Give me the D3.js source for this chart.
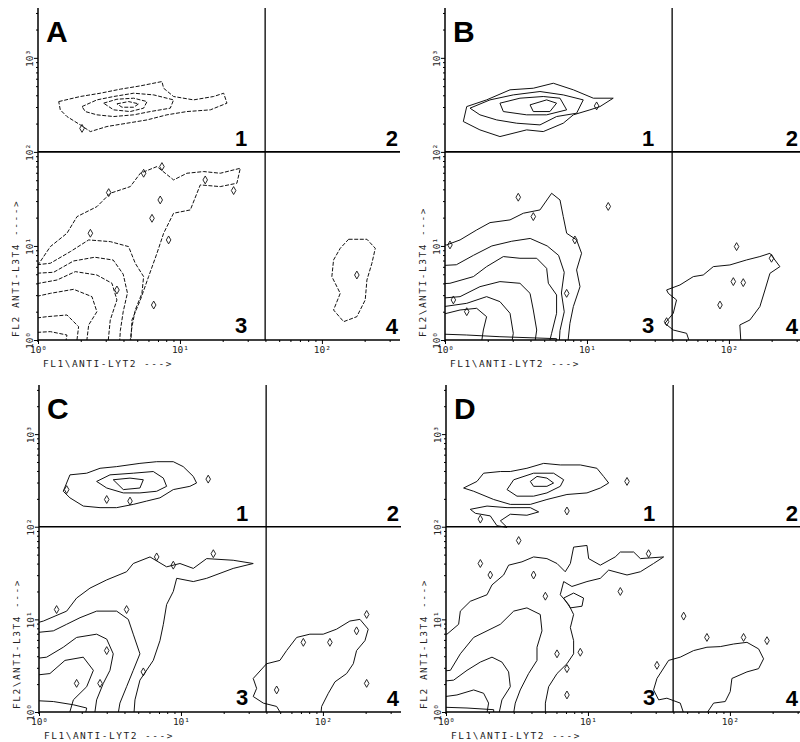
<!DOCTYPE html>
<html>
<head>
<meta charset="utf-8">
<script src="https://cdn.jsdelivr.net/npm/d3@7"></script>
<style>
  body { margin: 0; background: #fff; }
  svg { display: block; }
</style>
</head>
<body>
<div id="chart"></div>
<script>
// all coordinates are log10 fluorescence (decades) on FL1 (x) and FL2 (y)
var panelNames = ["A", "B", "C", "D"];
var quadrantLabels = ["1", "2", "3", "4"];
var xTickLabels = ["10\u2070", "10\u00b9", "10\u00b2"];
var yTickLabels = ["10\u2070", "10\u00b9", "10\u00b2", "10\u00b3"];
var xTitles = ["FL1\\ANTI-LYT2 --->", "FL1\\ANTI-LYT2 --->", "FL1\\ANTI-LYT2 --->", "FL1\\ANTI-LYT2 --->"];
var yTitles = ["FL2 ANTI-L3T4 ---->", "FL2\\ANTI-L3T4 --->", "FL2\\ANTI-L3T4 --->", "FL2 ANTI-L3T4 --->"];
var xMax = 2.55, yMax = 3.53;
var gateX = 1.6, gateY = 2;

// contour rings, panel A
var ringsA = [
  [[0.146,2.535],[0.298,2.589],[0.439,2.624],[0.58,2.667],[0.721,2.702],[0.873,2.748],[0.885,2.677],[0.955,2.589],[1.096,2.553],[1.237,2.589],[1.308,2.624],[1.331,2.518],[1.214,2.447],[1.049,2.429],[0.908,2.394],[0.768,2.34],[0.627,2.305],[0.486,2.27],[0.369,2.216],[0.298,2.287],[0.204,2.376],[0.157,2.447]],
  [[0.31,2.482],[0.415,2.553],[0.533,2.589],[0.674,2.624],[0.815,2.606],[0.955,2.553],[0.932,2.465],[0.791,2.429],[0.674,2.394],[0.533,2.376],[0.415,2.394],[0.333,2.429]],
  [[0.462,2.518],[0.556,2.56],[0.674,2.571],[0.768,2.535],[0.744,2.465],[0.65,2.429],[0.533,2.447]],
  [[0.556,2.511],[0.638,2.535],[0.709,2.511],[0.674,2.475],[0.592,2.475]],
  [[-0.124,0.816],[0,0.798],[0.087,0.993],[0.204,1.135],[0.275,1.312],[0.415,1.418],[0.509,1.56],[0.65,1.631],[0.721,1.773],[0.838,1.844],[0.955,1.702],[1.049,1.773],[1.167,1.791],[1.284,1.773],[1.425,1.826],[1.401,1.667],[1.284,1.631],[1.143,1.649],[1.073,1.383],[0.955,1.348],[0.885,1.135],[0.838,0.922],[0.779,0.674],[0.721,0.426],[0.662,0.213],[0.65,-0.142],[-0.124,-0.142]],
  [[-0.124,0.78],[0.087,0.816],[0.228,0.94],[0.357,1.064],[0.509,1.046],[0.638,0.993],[0.685,0.816],[0.744,0.674],[0.732,0.496],[0.685,0.319],[0.662,0.142],[0.638,-0.142],[-0.124,-0.142]],
  [[-0.124,0.7],[0.11,0.72],[0.25,0.84],[0.4,0.88],[0.53,0.85],[0.6,0.7],[0.63,0.5],[0.6,0.3],[0.58,0.1],[0.57,-0.142],[-0.124,-0.142]],
  [[-0.124,0.567],[0.134,0.638],[0.263,0.727],[0.415,0.691],[0.521,0.603],[0.556,0.426],[0.509,0.213],[0.486,-0.142],[-0.124,-0.142]],
  [[-0.124,0.426],[0.087,0.496],[0.251,0.539],[0.38,0.461],[0.415,0.301],[0.357,0.16],[0.333,-0.142],[-0.124,-0.142]],
  [[-0.124,0.213],[0.063,0.248],[0.204,0.266],[0.286,0.142],[0.263,-0.142],[-0.124,-0.142]],
  [[-0.124,0.071],[0.087,0.089],[0.204,0.053],[0.181,-0.142],[-0.124,-0.142]],
  [[2.188,1.071],[2.317,1.071],[2.376,0.975],[2.352,0.816],[2.317,0.638],[2.305,0.426],[2.246,0.248],[2.153,0.195],[2.082,0.319],[2.129,0.496],[2.07,0.674],[2.082,0.851],[2.129,0.975]]
];
var islandsA = [[0.744,1.773],[0.873,1.844],[0.498,1.567],[0.803,1.294],[0.92,1.064],[0.815,0.372],[0.369,1.135],[0.556,0.532],[2.246,0.691],[1.378,1.589],[1.178,1.702],[0.861,1.489],[0.31,2.25]];

// panel B
var ringsB = [
  [[0.129,2.323],[0.153,2.482],[0.293,2.553],[0.458,2.66],[0.622,2.677],[0.763,2.73],[0.904,2.66],[1.045,2.571],[1.185,2.571],[1.092,2.482],[1.021,2.447],[0.904,2.394],[0.833,2.305],[0.692,2.216],[0.575,2.234],[0.387,2.163],[0.246,2.234]],
  [[0.176,2.465],[0.317,2.553],[0.481,2.606],[0.669,2.642],[0.833,2.606],[0.974,2.553],[0.927,2.411],[0.786,2.376],[0.669,2.287],[0.505,2.305],[0.364,2.34],[0.246,2.394]],
  [[0.387,2.518],[0.528,2.571],[0.692,2.589],[0.81,2.571],[0.857,2.447],[0.716,2.394],[0.575,2.394],[0.411,2.429]],
  [[0.599,2.5],[0.716,2.553],[0.786,2.518],[0.739,2.429],[0.622,2.429]],
  [[-0.176,1.011],[0.012,1.011],[0.106,1.064],[0.223,1.17],[0.317,1.248],[0.458,1.277],[0.552,1.348],[0.669,1.383],[0.751,1.56],[0.81,1.489],[0.833,1.312],[0.857,1.135],[0.927,1.064],[0.962,0.922],[0.927,0.745],[0.951,0.567],[0.904,0.355],[0.88,0.177],[0.857,-0.142],[-0.176,-0.142]],
  [[-0.176,0.78],[0.08,0.8],[0.2,0.9],[0.33,1.0],[0.47,1.05],[0.6,1.08],[0.72,1.0],[0.8,0.9],[0.84,0.72],[0.82,0.5],[0.84,0.3],[0.81,0.1],[0.8,-0.142],[-0.176,-0.142]],
  [[-0.176,0.585],[0.035,0.603],[0.2,0.674],[0.293,0.78],[0.411,0.887],[0.528,0.869],[0.646,0.869],[0.716,0.762],[0.728,0.603],[0.786,0.479],[0.786,0.284],[0.751,0.071],[0.716,-0.142],[-0.176,-0.142]],
  [[-0.176,0.426],[0.106,0.461],[0.246,0.567],[0.387,0.621],[0.528,0.603],[0.599,0.496],[0.622,0.319],[0.646,0.106],[0.622,-0.142],[-0.176,-0.142]],
  [[-0.176,0.319],[0.153,0.39],[0.293,0.461],[0.387,0.408],[0.458,0.284],[0.481,0.071],[0.458,-0.142],[-0.176,-0.142]],
  [[-0.176,0.213],[0.106,0.319],[0.223,0.337],[0.293,0.248],[0.27,0.106],[0.246,-0.142],[-0.176,-0.142]],
  [[-0.176,0.071],[0.153,0.053],[0.387,0.035],[0.786,0.014],[0.786,-0.142],[-0.176,-0.142]],
  [[1.561,0.532],[1.655,0.585],[1.749,0.674],[1.819,0.691],[1.89,0.78],[2.007,0.798],[2.124,0.851],[2.218,0.887],[2.289,0.922],[2.359,0.78],[2.289,0.709],[2.254,0.532],[2.218,0.355],[2.148,0.213],[2.077,0.16],[2.089,-0.142],[1.749,-0.142],[1.702,0.071],[1.608,0.106],[1.549,0.177],[1.608,0.284],[1.631,0.426],[1.573,0.496]]
];
var islandsB = [[2.054,0.993],[2.031,0.621],[2.101,0.61],[1.937,0.372],[1.068,2.489],[0.035,1.011],[0.516,1.518],[0.622,1.312],[0.915,1.064],[0.857,0.496],[2.3,0.869],[0.059,0.426],[0.153,0.301],[1.561,0.195],[1.15,1.42]];

// panel C
var ringsC = [
  [[0.171,2.383],[0.218,2.56],[0.336,2.578],[0.43,2.631],[0.547,2.649],[0.711,2.684],[0.829,2.702],[0.946,2.702],[1.016,2.649],[1.087,2.543],[1.11,2.472],[1.063,2.436],[0.946,2.401],[0.852,2.312],[0.758,2.277],[0.664,2.241],[0.547,2.206],[0.43,2.206],[0.312,2.223],[0.218,2.312]],
  [[0.406,2.489],[0.5,2.56],[0.664,2.578],[0.805,2.596],[0.876,2.525],[0.899,2.436],[0.829,2.383],[0.711,2.365],[0.594,2.365],[0.477,2.418]],
  [[0.523,2.507],[0.641,2.525],[0.735,2.507],[0.711,2.418],[0.594,2.401]],
  [[-0.134,0.911],[0.031,0.982],[0.195,1.089],[0.265,1.23],[0.359,1.337],[0.477,1.426],[0.617,1.514],[0.664,1.603],[0.782,1.674],[0.899,1.567],[0.993,1.603],[1.087,1.55],[1.181,1.656],[1.368,1.638],[1.509,1.603],[1.368,1.55],[1.181,1.443],[1.087,1.408],[0.97,1.443],[0.946,1.301],[0.899,1.16],[0.876,0.947],[0.852,0.77],[0.805,0.557],[0.711,0.344],[0.676,0.131],[0.664,-0.117],[-0.134,-0.117]],
  [[-0.134,0.84],[0.101,0.876],[0.195,0.947],[0.289,1.018],[0.406,1.089],[0.547,1.089],[0.629,1.0],[0.664,0.84],[0.711,0.628],[0.664,0.45],[0.617,0.273],[0.57,0.096],[0.547,-0.117],[-0.134,-0.117]],
  [[-0.134,0.557],[0.054,0.592],[0.171,0.699],[0.265,0.805],[0.406,0.84],[0.477,0.787],[0.523,0.628],[0.5,0.45],[0.453,0.309],[0.406,0.131],[0.383,-0.117],[-0.134,-0.117]],
  [[-0.134,0.379],[0.077,0.415],[0.183,0.557],[0.312,0.592],[0.383,0.45],[0.336,0.273],[0.242,0.131],[0.195,-0.117],[-0.134,-0.117]],
  [[-0.134,0.131],[0.101,0.113],[0.242,0.078],[0.336,0.043],[0.312,-0.117],[-0.134,-0.117]],
  [[1.509,0.362],[1.603,0.521],[1.697,0.557],[1.744,0.663],[1.815,0.805],[1.908,0.84],[2.002,0.84],[2.096,0.894],[2.19,0.982],[2.261,1.0],[2.319,0.894],[2.296,0.77],[2.237,0.663],[2.214,0.521],[2.167,0.415],[2.085,0.326],[2.038,0.202],[1.991,0.06],[1.979,-0.117],[1.744,-0.117],[1.674,0.06],[1.58,0.096],[1.509,0.167],[1.533,0.255]]
];
var islandsC = [[1.192,2.514],[0.195,2.401],[0.641,2.277],[0.477,2.294],[0.617,1.106],[0.124,1.106],[0.829,1.674],[1.228,1.709],[0.265,0.309],[0.477,0.663],[0.735,0.433],[0.43,0.309],[2.308,1.053],[1.862,0.752],[2.049,0.752],[2.237,0.876],[1.674,0.238],[2.308,0.309],[0.946,1.585]];

// panel D
var ringsD = [
  [[0.124,2.418],[0.218,2.489],[0.265,2.578],[0.383,2.596],[0.453,2.596],[0.57,2.631],[0.688,2.684],[0.805,2.667],[0.946,2.667],[1.063,2.631],[1.11,2.543],[1.146,2.472],[1.087,2.418],[0.993,2.365],[0.852,2.348],[0.711,2.294],[0.594,2.241],[0.453,2.241],[0.336,2.294],[0.195,2.383]],
  [[0.43,2.401],[0.477,2.507],[0.617,2.578],[0.758,2.578],[0.829,2.507],[0.805,2.436],[0.711,2.365],[0.617,2.33],[0.5,2.33]],
  [[0.594,2.489],[0.641,2.543],[0.711,2.525],[0.758,2.472],[0.711,2.436],[0.617,2.436]],
  [[0.171,2.188],[0.289,2.223],[0.43,2.206],[0.5,2.206],[0.594,2.206],[0.653,2.16],[0.57,2.124],[0.453,2.135],[0.383,2.064],[0.43,1.993],[0.359,2.011],[0.312,2.117],[0.207,2.145]],
  [[-0.181,0.84],[0.007,0.84],[0.089,0.947],[0.101,1.089],[0.171,1.195],[0.289,1.266],[0.324,1.372],[0.406,1.479],[0.441,1.585],[0.535,1.621],[0.617,1.674],[0.711,1.656],[0.782,1.603],[0.84,1.514],[0.876,1.603],[0.899,1.78],[0.993,1.798],[1.005,1.656],[1.087,1.585],[1.192,1.674],[1.228,1.727],[1.322,1.727],[1.369,1.656],[1.533,1.674],[1.462,1.603],[1.369,1.514],[1.275,1.479],[1.146,1.532],[1.087,1.443],[0.993,1.408],[0.887,1.355],[0.829,1.408],[0.805,1.266],[0.864,1.16],[0.899,1.053],[0.876,0.911],[0.899,0.77],[0.899,0.628],[0.852,0.521],[0.782,0.415],[0.723,0.273],[0.7,0.096],[0.7,-0.117],[-0.181,-0.117]],
  [[-0.181,0.415],[0.031,0.45],[0.101,0.628],[0.195,0.805],[0.289,0.876],[0.383,0.947],[0.477,1.089],[0.57,1.124],[0.664,1.053],[0.676,0.876],[0.641,0.699],[0.641,0.557],[0.582,0.415],[0.523,0.238],[0.488,0.096],[0.465,-0.117],[-0.181,-0.117]],
  [[-0.181,0.309],[0.054,0.344],[0.148,0.45],[0.242,0.539],[0.324,0.592],[0.394,0.539],[0.441,0.433],[0.453,0.273],[0.394,0.131],[0.359,-0.117],[-0.181,-0.117]],
  [[-0.181,0.131],[0.077,0.184],[0.195,0.238],[0.265,0.202],[0.3,0.096],[0.277,-0.117],[-0.181,-0.117]],
  [[-0.181,0.06],[0.148,0.043],[0.336,0.025],[0.336,-0.117],[-0.181,-0.117]],
  [[0.829,1.23],[0.899,1.284],[0.969,1.23],[0.958,1.142],[0.876,1.124]],
  [[1.486,0.362],[1.568,0.557],[1.65,0.592],[1.744,0.663],[1.838,0.699],[1.932,0.706],[2.026,0.734],[2.12,0.752],[2.202,0.681],[2.237,0.574],[2.202,0.468],[2.12,0.433],[2.014,0.362],[2.002,0.22],[1.967,0.113],[1.885,0.096],[1.838,-0.011],[1.791,-0.117],[1.697,-0.117],[1.65,0.096],[1.556,0.149],[1.498,0.131],[1.462,0.238]]
];
var islandsD = [[0.512,1.851],[0.242,1.603],[0.312,1.479],[0.617,1.479],[1.228,1.301],[0.782,0.628],[0.946,0.645],[0.852,0.184],[0.852,0.468],[1.486,0.504],[1.838,0.805],[2.096,0.805],[2.261,0.77],[1.275,2.489],[0.852,2.17],[0.242,2.082],[1.427,1.709],[1.674,1.035],[0.7,1.25]];

// layout of the four panels
var width = 800, height = 742;
var panels = [
  { x0: 38,  y0: 340, h: 332, rings: ringsA, islands: islandsA, dash: "4,1.6" },
  { x0: 445, y0: 340, h: 332, rings: ringsB, islands: islandsB, dash: null },
  { x0: 39,  y0: 712, h: 327, rings: ringsC, islands: islandsC, dash: null },
  { x0: 446, y0: 712, h: 327, rings: ringsD, islands: islandsD, dash: null }
];
var panelW = 362;

var svg = d3.select("#chart").append("svg")
    .attr("width", width)
    .attr("height", height)
    .style("font-family", "'Liberation Sans', Arial, sans-serif");

svg.append("rect").attr("width", width).attr("height", height).attr("fill", "#fff");

// minor tick positions for log decades
function minorTicks(max) {
  var out = [];
  for (var d = 0; d < Math.ceil(max); d++) {
    for (var k = 2; k <= 9; k++) {
      var v = d + Math.log10(k);
      if (v < max) out.push(v);
    }
  }
  return out;
}

panels.forEach(function (p, i) {
  var x = d3.scaleLinear().domain([0, xMax]).range([p.x0, p.x0 + panelW]);
  var y = d3.scaleLinear().domain([0, yMax]).range([p.y0, p.y0 - p.h]);
  var g = svg.append("g");

  var clipId = "clip" + i;
  svg.append("clipPath").attr("id", clipId)
    .append("rect")
    .attr("x", x(0)).attr("y", y(yMax))
    .attr("width", x(xMax) - x(0)).attr("height", y(0) - y(yMax));

  // contours
  var line = d3.line()
      .x(function (d) { return x(d[0]); })
      .y(function (d) { return y(d[1]); })
      .curve(d3.curveLinearClosed);

  var cg = g.append("g").attr("clip-path", "url(#" + clipId + ")");
  cg.selectAll("path.ring")
    .data(p.rings)
    .enter()
    .append("path")
    .attr("class", "ring")
    .attr("d", line)
    .attr("fill", "none")
    .attr("stroke", "#111")
    .attr("stroke-width", 1)
    .attr("stroke-linejoin", "round")
    .attr("stroke-dasharray", p.dash);

  // small contour islands
  cg.selectAll("path.island")
    .data(p.islands)
    .enter()
    .append("path")
    .attr("class", "island")
    .attr("transform", function (d) { return "translate(" + x(d[0]) + "," + y(d[1]) + ")"; })
    .attr("d", d3.symbol().type(d3.symbolDiamond).size(18))
    .attr("fill", "none")
    .attr("stroke", "#111")
    .attr("stroke-width", 0.9);

  // quadrant gates
  g.append("line")
    .attr("x1", x(0)).attr("x2", Math.min(x(xMax), width))
    .attr("y1", y(gateY)).attr("y2", y(gateY))
    .attr("stroke", "#000").attr("stroke-width", 1.7);
  g.append("line")
    .attr("x1", x(gateX)).attr("x2", x(gateX))
    .attr("y1", y(yMax)).attr("y2", y(0))
    .attr("stroke", "#000").attr("stroke-width", 1.3);

  // x axis
  var xAxisMinor = d3.axisBottom(x).tickValues(minorTicks(xMax)).tickSize(2).tickFormat("");
  var xAxisMajor = d3.axisBottom(x).tickValues([0, 1, 2]).tickSize(4).tickPadding(2)
      .tickFormat(function (d) { return xTickLabels[d]; });
  g.append("g").attr("transform", "translate(0," + y(0) + ")").call(xAxisMinor);
  var xa = g.append("g").attr("transform", "translate(0," + y(0) + ")").call(xAxisMajor);

  // y axis
  var yAxisMinor = d3.axisLeft(y).tickValues(minorTicks(yMax)).tickSize(2).tickFormat("");
  var yAxisMajor = d3.axisLeft(y).tickValues([0, 1, 2, 3]).tickSize(4)
      .tickFormat(function (d) { return yTickLabels[d]; });
  g.append("g").attr("transform", "translate(" + x(0) + ",0)").call(yAxisMinor);
  var ya = g.append("g").attr("transform", "translate(" + x(0) + ",0)").call(yAxisMajor);

  g.selectAll(".tick line").attr("stroke", "#000");
  // draw the axis lines straight to the panel edges
  g.selectAll(".domain").remove();
  g.append("line").attr("x1", x(0)).attr("x2", Math.min(x(xMax), width))
    .attr("y1", y(0)).attr("y2", y(0)).attr("stroke", "#000").attr("stroke-width", 1.7);
  g.append("line").attr("x1", x(0)).attr("x2", x(0))
    .attr("y1", y(0) + 2).attr("y2", y(yMax)).attr("stroke", "#000").attr("stroke-width", 1.5);

  xa.selectAll("text")
    .attr("font-family", "'DejaVu Sans Mono', monospace")
    .attr("font-size", 9.5)
    .attr("fill", "#222");
  ya.selectAll("text")
    .attr("font-family", "'DejaVu Sans Mono', monospace")
    .attr("font-size", 9.5)
    .attr("fill", "#222")
    .attr("text-anchor", "middle")
    .attr("x", 0).attr("dy", 0)
    .attr("y", -5)
    .attr("transform", "rotate(-90)");

  // axis titles
  g.append("text")
    .attr("x", x(0) + 5)
    .attr("y", y(0) + 27)
    .attr("font-family", "'DejaVu Sans Mono', monospace")
    .attr("font-size", 9.5)
    .attr("letter-spacing", 1.5)
    .attr("fill", "#222")
    .text(xTitles[i]);
  g.append("text")
    .attr("transform", "translate(" + (x(0) - 19) + "," + (y(0) - 3) + ") rotate(-90)")
    .attr("font-family", "'DejaVu Sans Mono', monospace")
    .attr("font-size", 9.5)
    .attr("letter-spacing", 1.5)
    .attr("fill", "#222")
    .text(yTitles[i]);

  // panel letter
  g.append("text")
    .attr("x", x(0) + 8)
    .attr("y", y(yMax) + 34)
    .attr("font-size", 30)
    .attr("font-weight", "bold")
    .attr("fill", "#000")
    .text(panelNames[i]);

  // quadrant numbers
  var right = Math.min(x(xMax), width) - 2;
  var qpos = [
    [x(gateX) - 18, y(gateY) - 6],
    [right, y(gateY) - 6],
    [x(gateX) - 18, y(0) - 7],
    [right, y(0) - 6]
  ];
  g.selectAll("text.quad")
    .data(quadrantLabels)
    .enter()
    .append("text")
    .attr("class", "quad")
    .attr("x", function (d, j) { return qpos[j][0]; })
    .attr("y", function (d, j) { return qpos[j][1]; })
    .attr("text-anchor", "end")
    .attr("font-size", 22)
    .attr("font-weight", "bold")
    .attr("fill", "#000")
    .text(function (d) { return d; });
});
</script>
</body>
</html>
